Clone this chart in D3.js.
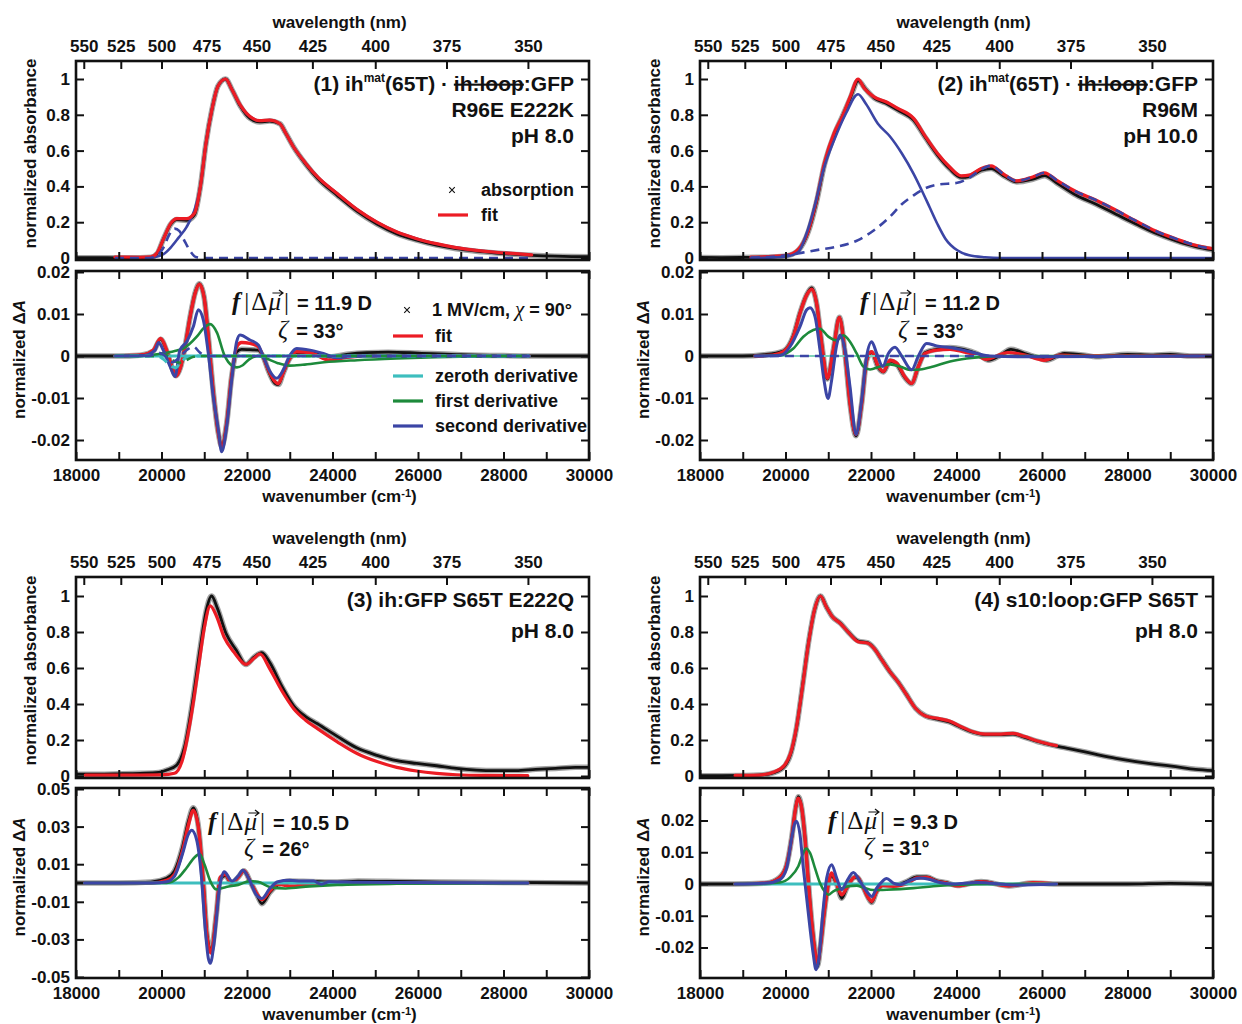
<!DOCTYPE html>
<html><head><meta charset="utf-8">
<script src="https://cdn.jsdelivr.net/npm/d3@7"></script>
<style>
body{margin:0;background:#fff}
svg text{font-family:"Liberation Sans",Arial,sans-serif;font-weight:bold;fill:#111}
</style></head>
<body><svg id="c" width="1242" height="1024"></svg>
<script>
// ---------------- tick values ----------------
const wavenumberTicks = [18000,19000,20000,21000,22000,23000,24000,25000,26000,27000,28000,29000,30000];
const wavenumberLabels = [18000,20000,22000,24000,26000,28000,30000];
const wavelengthTicks = [550,525,500,475,450,425,400,375,350];
const absTicks = [0,0.2,0.4,0.6,0.8,1];
const starkTicksA = [-0.02,-0.01,0,0.01,0.02];
const starkTicksB = [-0.05,-0.03,-0.01,0.01,0.03,0.05];

// ---------------- panel 1 ----------------
const p1AbsData = [[18000,0.002],[18500,0.002],[19000,0.001],[19500,0.002],[19750,0.004],[19900,0.025],[20035,0.10],[20220,0.19],[20360,0.215],[20585,0.21],[20770,0.24],[20910,0.40],[21040,0.64],[21180,0.83],[21320,0.96],[21500,1.0],[21650,0.94],[21840,0.85],[22070,0.78],[22300,0.76],[22530,0.765],[22770,0.75],[22900,0.70],[23090,0.62],[23370,0.525],[23650,0.445],[24110,0.35],[24580,0.26],[25040,0.19],[25510,0.135],[25970,0.10],[26430,0.072],[26890,0.052],[27360,0.038],[27820,0.028],[28290,0.02],[28660,0.015],[29200,0.01],[29600,0.008],[30000,0.007]];
const p1AbsFit = [[18910,0.005],[19500,0.004],[19750,0.006],[19900,0.03],[20035,0.10],[20220,0.195],[20360,0.22],[20585,0.22],[20770,0.25],[20910,0.40],[21040,0.64],[21180,0.83],[21320,0.96],[21500,1.0],[21650,0.94],[21840,0.855],[22070,0.79],[22300,0.767],[22530,0.77],[22770,0.75],[22900,0.70],[23090,0.62],[23370,0.53],[23650,0.453],[24110,0.36],[24580,0.27],[25040,0.20],[25510,0.145],[25970,0.108],[26430,0.08],[26890,0.058],[27360,0.043],[27820,0.032],[28290,0.024],[28660,0.017]];
const p1CompMain = [[19600,0],[19800,0.004],[20035,0.02],[20220,0.06],[20400,0.114],[20585,0.173],[20770,0.267],[20910,0.40],[21040,0.64],[21180,0.83],[21320,0.96],[21500,1.0],[21650,0.94],[21840,0.855],[22070,0.79],[22300,0.767],[22530,0.77],[22770,0.75],[22900,0.70],[23090,0.62],[23370,0.53],[23650,0.453],[24110,0.36],[24580,0.27],[25040,0.20],[25510,0.145],[25970,0.108],[26430,0.08],[26890,0.058],[27360,0.043],[27820,0.032],[28290,0.024],[28660,0.017]];
const p1CompSmall = [[18910,0],[19700,0],[19900,0.015],[20050,0.06],[20180,0.13],[20307,0.164],[20420,0.15],[20550,0.09],[20680,0.035],[20800,0.006],[21000,0],[28660,0]];
const p1StarkData = [[18000,0],[19000,0],[19500,0.0002],[19810,0.0012],[19980,0.004],[20120,0.0012],[20240,-0.0025],[20340,-0.0047],[20450,-0.0025],[20550,0.0022],[20670,0.0094],[20785,0.015],[20885,0.0172],[20995,0.0141],[21095,0.0046],[21215,-0.0089],[21330,-0.0184],[21410,-0.0215],[21525,-0.016],[21640,-0.005],[21760,0.001],[21875,0.0016],[22070,0.0015],[22265,0.0014],[22380,-0.0002],[22500,-0.0035],[22655,-0.0065],[22735,-0.0068],[22850,-0.004],[23005,-0.0005],[23160,0.0008],[23470,0.0008],[23940,-0.0002],[24330,0.0004],[24800,0.0008],[25300,0.0009],[26000,0.0007],[27000,0.0003],[28000,0.0001],[29000,0],[30000,0]];
const p1StarkFit = [[18910,0],[19575,0.0003],[19810,0.0014],[19980,0.0042],[20120,0.0014],[20240,-0.0025],[20340,-0.0048],[20450,-0.0025],[20550,0.0022],[20670,0.0094],[20785,0.0149],[20885,0.0171],[20995,0.0141],[21095,0.0046],[21215,-0.0089],[21330,-0.0184],[21410,-0.0218],[21525,-0.016],[21640,-0.0049],[21760,0.0022],[21875,0.0032],[22070,0.003],[22265,0.0022],[22380,-0.0002],[22500,-0.0033],[22655,-0.0061],[22735,-0.0066],[22850,-0.0039],[23005,-0.0005],[23160,0.001],[23470,0.0008],[23940,-0.001],[24330,-0.0003],[24870,0],[26000,0],[28600,0]];
const p1Zeroth = [[18910,0],[20000,0],[24000,0],[28600,0]];
const p1ZerothDash = [[18910,0],[19900,0],[20050,-0.0008],[20200,-0.0022],[20330,-0.0028],[20450,-0.0015],[20600,-0.0003],[20800,0],[28600,0]];
const p1First = [[18910,0],[19600,0.0001],[20080,0.0007],[20360,0.0013],[20515,0.0018],[20825,0.0046],[21000,0.0068],[21135,0.0076],[21300,0.0055],[21460,0.0005],[21560,-0.0014],[21760,-0.0027],[21900,-0.0022],[22050,-0.0008],[22260,0],[22450,-0.0006],[22720,-0.0017],[23000,-0.0023],[23300,-0.0021],[23800,-0.0015],[24580,-0.001],[25500,-0.0006],[26430,-0.0003],[27500,-0.0001],[28600,0]];
const p1FirstDash = [[18910,0],[19800,0],[20000,0.0005],[20150,0],[20300,-0.0012],[20450,-0.0016],[20600,-0.0009],[20750,-0.0002],[20900,0],[28600,0]];
const p1Second = [[18910,0],[19575,0.0001],[19850,0.0014],[19930,0.0032],[20050,0.0012],[20200,-0.0025],[20316,-0.0049],[20430,0.0014],[20590,0.0034],[20745,0.007],[20860,0.011],[20978,0.0086],[21095,0.0006],[21212,-0.0097],[21329,-0.0176],[21407,-0.0228],[21524,-0.0168],[21641,-0.0057],[21758,0.0034],[21836,0.005],[22070,0.0038],[22265,0.0026],[22382,-0.0002],[22538,-0.0037],[22694,-0.0053],[22850,-0.0033],[23006,0.0002],[23162,0.0018],[23474,0.0014],[23786,0.0006],[24098,-0.0004],[24722,0],[28600,0]];
const p1SecondDash = [[18910,0],[19700,0],[19900,0.0008],[20050,0.0003],[20250,-0.0015],[20400,-0.0005],[20600,0.0015],[20750,0.0022],[20900,0.0008],[21050,0],[28600,0]];

// ---------------- panel 2 ----------------
const p2AbsData = [[18000,0.003],[18500,0.002],[19000,0.003],[19300,0.004],[19700,0.006],[20027,0.012],[20306,0.045],[20538,0.15],[20723,0.31],[20909,0.52],[21141,0.69],[21327,0.79],[21512,0.89],[21698,0.99],[21884,0.94],[22070,0.895],[22349,0.865],[22627,0.826],[22997,0.77],[23278,0.67],[23556,0.575],[23835,0.50],[24113,0.45],[24299,0.455],[24576,0.49],[24808,0.50],[25133,0.455],[25411,0.425],[25783,0.44],[26061,0.46],[26340,0.42],[26803,0.35],[27268,0.30],[27732,0.245],[28196,0.19],[28660,0.138],[29125,0.097],[29589,0.064],[30000,0.045]];
const p2AbsFit = [[19190,0.005],[19600,0.008],[20027,0.015],[20306,0.05],[20538,0.155],[20723,0.32],[20909,0.53],[21141,0.70],[21327,0.79],[21512,0.90],[21698,1.0],[21837,0.95],[22070,0.90],[22349,0.873],[22627,0.836],[22997,0.78],[23278,0.677],[23556,0.584],[23835,0.51],[24113,0.459],[24299,0.463],[24576,0.50],[24808,0.515],[25133,0.463],[25411,0.431],[25783,0.453],[26061,0.476],[26340,0.435],[26803,0.37],[27268,0.323],[27732,0.267],[28196,0.207],[28660,0.151],[29125,0.108],[29589,0.071],[30000,0.052]];
const p2CompMain = [[19190,0],[19700,0.003],[20027,0.008],[20306,0.035],[20491,0.136],[20677,0.285],[20909,0.51],[21141,0.66],[21419,0.81],[21698,0.915],[21884,0.86],[22162,0.75],[22440,0.68],[22719,0.585],[22997,0.47],[23183,0.38],[23369,0.285],[23554,0.19],[23740,0.108],[24018,0.043],[24297,0.015],[24668,0.004],[25039,0],[30000,0]];
const p2CompBroad = [[19190,0.003],[19600,0.006],[20027,0.015],[20400,0.03],[20800,0.047],[21141,0.06],[21698,0.10],[22070,0.155],[22440,0.23],[22719,0.30],[22997,0.35],[23276,0.39],[23554,0.41],[24018,0.42],[24299,0.448],[24576,0.495],[24808,0.515],[25133,0.463],[25411,0.431],[25783,0.453],[26061,0.476],[26340,0.435],[26803,0.37],[27268,0.323],[27732,0.267],[28196,0.207],[28660,0.151],[29125,0.108],[29589,0.071],[30000,0.052]];
const p2StarkData = [[18000,0],[19000,0],[19500,0.0003],[19949,0.0012],[20183,0.0048],[20339,0.0103],[20495,0.0146],[20612,0.0162],[20729,0.0124],[20846,0.003],[20979,-0.0055],[21119,0.0014],[21260,0.0092],[21392,0.0006],[21509,-0.0113],[21650,-0.019],[21782,-0.0113],[21899,-0.001],[22016,0.0008],[22172,-0.0028],[22290,-0.0038],[22445,-0.0012],[22601,-0.002],[22796,-0.0052],[22952,-0.0066],[23108,-0.0025],[23264,0.0008],[23537,0.0016],[23849,0.002],[24161,0.0016],[24473,0.0006],[24760,-0.001],[25000,0],[25272,0.0016],[25600,0.0006],[25900,-0.0004],[26107,-0.001],[26523,0.0006],[27000,0.0002],[27265,-0.0002],[28007,0.0004],[28600,0.0002],[29000,0.0004],[29500,0],[30000,0]];
const p2StarkFit = [[19285,0],[19700,0.0002],[19949,0.001],[20183,0.0046],[20339,0.0102],[20495,0.0145],[20612,0.0159],[20729,0.0125],[20846,0.003],[20979,-0.0053],[21119,0.0014],[21260,0.0092],[21392,0.0006],[21509,-0.0113],[21650,-0.0187],[21782,-0.0113],[21899,-0.001],[22016,0.001],[22172,-0.0025],[22290,-0.0037],[22445,-0.001],[22601,-0.0017],[22796,-0.005],[22952,-0.0065],[23108,-0.0025],[23264,0.0006],[23537,0.0014],[23849,0.0016],[24161,0.001],[24473,0.0002],[24700,-0.0008],[24941,0],[25200,0.0008],[25600,0.0002],[26050,-0.001],[26400,0.0002],[27000,0],[30000,0]];
const p2Zeroth = [[19285,0],[24500,0]];
const p2First = [[19285,0],[19871,0.0002],[20183,0.0018],[20417,0.0046],[20651,0.0062],[20807,0.0065],[21002,0.0046],[21197,0.0037],[21353,0.0049],[21509,0.0034],[21665,0.0006],[21821,-0.0025],[21977,-0.0032],[22211,-0.0025],[22445,-0.002],[22679,-0.0025],[22913,-0.0033],[23147,-0.0032],[23459,-0.0025],[23849,-0.0013],[24239,-0.0006],[24629,-0.0002],[25097,0],[30000,0]];
const p2Second = [[19285,0],[19871,0.0001],[20105,0.0022],[20339,0.007],[20495,0.011],[20573,0.0115],[20690,0.0094],[20807,0.0014],[20900,-0.0057],[20995,-0.0101],[21080,-0.0057],[21197,0.0026],[21275,0.005],[21392,0.0014],[21509,-0.0073],[21650,-0.0187],[21782,-0.0105],[21899,0],[22016,0.0034],[22133,0.0006],[22274,-0.0025],[22406,0.0006],[22562,0.0021],[22718,0],[22952,-0.0033],[23108,0],[23300,0.003],[23537,0.0024],[23849,0.002],[24161,0.0014],[24473,0.0006],[24785,0],[26000,-0.0002],[30000,0]];
const p2SecondDash = [[19285,0],[30000,0]];

// ---------------- panel 3 ----------------
const p3AbsData = [[18000,0.01],[18500,0.01],[19000,0.012],[19500,0.015],[19934,0.02],[20121,0.033],[20353,0.06],[20538,0.16],[20725,0.41],[20910,0.72],[21048,0.92],[21170,1.0],[21310,0.93],[21513,0.79],[21745,0.70],[21977,0.62],[22163,0.66],[22348,0.685],[22533,0.63],[22811,0.50],[23092,0.39],[23370,0.33],[23648,0.29],[24112,0.22],[24575,0.155],[25040,0.115],[25503,0.085],[25969,0.07],[26433,0.057],[26896,0.042],[27361,0.033],[27824,0.03],[28289,0.03],[28753,0.037],[29218,0.042],[29681,0.048],[30000,0.048]];
const p3AbsFit = [[18218,0.005],[19500,0.005],[20000,0.006],[20306,0.015],[20491,0.09],[20678,0.31],[20863,0.60],[21003,0.825],[21141,0.945],[21282,0.89],[21466,0.77],[21698,0.687],[21976,0.62],[22163,0.654],[22302,0.678],[22533,0.595],[22811,0.475],[23092,0.374],[23370,0.31],[23648,0.263],[24112,0.19],[24575,0.125],[25040,0.08],[25503,0.048],[25969,0.028],[26433,0.015],[26896,0.007],[27500,0.003],[28568,0.002]];
const p3StarkData = [[18000,0],[19000,0],[19750,0.0005],[20121,0.0025],[20306,0.0065],[20491,0.019],[20631,0.033],[20743,0.040],[20863,0.03],[20975,0.001],[21067,-0.028],[21160,-0.036],[21281,-0.017],[21373,0.002],[21494,0.004],[21633,0],[21792,0.003],[21930,0.0065],[22070,0.001],[22237,-0.0065],[22348,-0.011],[22533,-0.005],[22720,-0.001],[22998,0.001],[23462,0.0008],[24112,0.0005],[24600,0.001],[25500,0.0008],[26500,0.0005],[28000,0.0003],[30000,0]];
const p3StarkFit = [[18200,0],[19750,0],[20121,0.0014],[20306,0.0046],[20491,0.017],[20631,0.031],[20743,0.0386],[20863,0.0296],[20975,0.001],[21067,-0.029],[21160,-0.0373],[21281,-0.0168],[21373,0.003],[21494,0.0046],[21633,0],[21792,0.003],[21930,0.0066],[22070,0.001],[22237,-0.006],[22348,-0.0088],[22533,-0.0043],[22720,-0.0007],[22998,-0.0016],[23462,-0.0007],[24112,0],[28568,0]];
const p3Zeroth = [[18200,0],[28568,0]];
const p3First = [[18200,0],[20121,0],[20399,0.003],[20585,0.008],[20770,0.0136],[20892,0.0154],[21003,0.01],[21141,0.001],[21281,-0.0034],[21513,-0.0021],[21792,-0.001],[22070,0.001],[22256,0.0007],[22533,-0.0021],[22905,-0.0029],[23462,-0.0018],[24112,-0.001],[25503,-0.0004],[28568,0]];
const p3Second = [[18200,0],[19800,0],[20121,0.0007],[20306,0.0037],[20491,0.0154],[20631,0.026],[20706,0.028],[20817,0.0234],[20929,0.0046],[21021,-0.024],[21095,-0.04],[21141,-0.0427],[21234,-0.031],[21346,-0.0043],[21466,0.006],[21652,0.001],[21792,0.0037],[21902,0.0068],[22050,0.002],[22209,-0.006],[22348,-0.0082],[22533,-0.0029],[22720,0.0007],[22998,0.0014],[23277,0.001],[23556,0.001],[23740,-0.0007],[23927,0.0007],[24575,0.0004],[25503,0.0002],[28568,0]];

// ---------------- panel 4 ----------------
const p4AbsData = [[18000,0.002],[18500,0.002],[19000,0.003],[19377,0.005],[19749,0.02],[19981,0.055],[20119,0.12],[20259,0.27],[20398,0.50],[20538,0.74],[20677,0.92],[20817,1.0],[20955,0.94],[21096,0.885],[21280,0.85],[21466,0.80],[21698,0.75],[21930,0.74],[22070,0.71],[22256,0.645],[22440,0.58],[22627,0.524],[22812,0.459],[23043,0.376],[23277,0.333],[23555,0.316],[23834,0.30],[24112,0.27],[24390,0.243],[24669,0.23],[25041,0.23],[25319,0.233],[25597,0.215],[25876,0.193],[26154,0.176],[26339,0.166],[26802,0.144],[27267,0.12],[27730,0.098],[28196,0.08],[28659,0.065],[29125,0.052],[29588,0.037],[30000,0.03]];
const p4AbsFit = [[18821,0.003],[19377,0.005],[19749,0.024],[19981,0.061],[20119,0.126],[20259,0.274],[20398,0.496],[20538,0.737],[20677,0.922],[20817,1.0],[20955,0.94],[21096,0.885],[21280,0.848],[21466,0.80],[21698,0.746],[21930,0.737],[22070,0.709],[22256,0.644],[22440,0.58],[22627,0.524],[22812,0.459],[23043,0.376],[23277,0.333],[23555,0.32],[23834,0.306],[24112,0.274],[24390,0.246],[24669,0.233],[25041,0.233],[25319,0.237],[25597,0.219],[25876,0.196],[26154,0.178],[26339,0.169]];
const p4StarkData = [[18000,0],[18800,0],[19559,0.0003],[19871,0.0022],[20027,0.006],[20144,0.0145],[20238,0.024],[20300,0.0275],[20378,0.024],[20456,0.0145],[20534,0.0008],[20612,-0.0118],[20690,-0.0213],[20744,-0.026],[20823,-0.019],[20900,-0.0097],[21002,0],[21080,0.0025],[21197,0],[21314,-0.0045],[21431,-0.0013],[21587,0.0019],[21665,0.0022],[21782,0],[21937,-0.0044],[22015,-0.0058],[22132,-0.0023],[22288,-0.0004],[22522,-0.0005],[22834,0.0008],[23068,0.0022],[23302,0.0022],[23536,0.001],[23770,0.0004],[24018,-0.0005],[24575,0.0008],[25225,-0.0006],[25783,0.0003],[26340,0],[27000,0],[28000,0],[29000,0.0002],[30000,0]];
const p4StarkFit = [[18818,0],[19559,0.0003],[19871,0.0021],[20027,0.0061],[20144,0.0145],[20238,0.024],[20300,0.027],[20378,0.024],[20456,0.0145],[20534,0.0008],[20612,-0.0118],[20690,-0.0213],[20744,-0.025],[20823,-0.019],[20900,-0.0097],[21002,0],[21080,0.0035],[21197,0],[21314,-0.0034],[21431,-0.0013],[21587,0.0019],[21665,0.0024],[21782,0],[21937,-0.0044],[22015,-0.0055],[22132,-0.0023],[22288,-0.0004],[22522,-0.0007],[22834,0],[23068,0.0019],[23302,0.0021],[23536,0.0008],[23770,0.0003],[24018,-0.0006],[24575,0.0007],[25225,-0.0006],[25783,0.0004],[26340,0]];
const p4Zeroth = [[18818,0],[26340,0]];
const p4First = [[18818,0],[19170,0],[19871,0.0005],[20105,0.0021],[20300,0.0056],[20417,0.0098],[20479,0.0112],[20573,0.0098],[20690,0.005],[20807,0.0003],[20924,-0.0025],[21002,-0.0034],[21119,-0.0023],[21275,-0.0015],[21470,-0.0007],[21665,-0.0005],[21820,-0.0011],[22054,-0.0019],[22366,-0.0018],[22678,-0.0016],[22990,-0.0013],[23458,-0.0007],[23926,-0.0003],[25000,0],[26340,0]];
const p4Second = [[18818,0],[19559,0.0003],[19871,0.0014],[20027,0.005],[20144,0.0145],[20222,0.0193],[20261,0.0198],[20339,0.0156],[20417,0.005],[20495,-0.0044],[20573,-0.0139],[20651,-0.0223],[20713,-0.027],[20791,-0.0223],[20869,-0.0097],[20963,0.0019],[21080,0.0061],[21197,0.0019],[21314,-0.0018],[21431,0.0008],[21587,0.0036],[21743,0.0008],[21898,-0.0023],[22015,-0.0039],[22132,-0.0013],[22249,0.0006],[22366,0.0017],[22522,0.0003],[22678,-0.0002],[22912,0.0011],[23146,0.0019],[23380,0.0014],[23614,0.0005],[23926,0],[24480,0.0005],[25411,-0.0003],[26340,0]];

// ---------------- text ----------------
const titles = [
  [["(1) ih",null],["mat","sup"],["(65T) · ","after"],["ih:loop","strike"],[":GFP",null]],
  [["(2) ih",null],["mat","sup"],["(65T) · ","after"],["ih:loop","strike"],[":GFP",null]],
  [["(3) ih:GFP S65T E222Q",null]],
  [["(4) s10:loop:GFP S65T",null]]
];
const subtitles = [["R96E E222K","pH 8.0"],["R96M","pH 10.0"],["pH 8.0"],["pH 8.0"]];
const dipoleValues = ["11.9","11.2","10.5","9.3"];
const zetaValues = ["33","33","26","31"];

// ---------------- drawing ----------------
const C = {red:"#ec1c24", blue:"#3b45a5", green:"#1d8a3b", cyan:"#3dbebe", black:"#111"};
const svg = d3.select("#c");
let clipN = 0;
const fmt = v => String(Math.round(v*1000)/1000);

function plot(p){
  const x = d3.scaleLinear().domain([18000,30000]).range([p.x0,p.x1]);
  const y = d3.scaleLinear().domain(p.yd).range(p.yr);
  const g = svg.append("g");
  const id = "clip"+(clipN++);
  svg.append("clipPath").attr("id",id).append("rect")
    .attr("x",p.x0).attr("y",p.yt).attr("width",p.x1-p.x0).attr("height",p.yb-p.yt);
  const line = d3.line().x(d=>x(d[0])).y(d=>y(d[1])).curve(d3.curveMonotoneX);
  const cg = g.append("g").attr("clip-path",`url(#${id})`);
  p.series.forEach(s=>{
    if(s.halo) cg.append("path").attr("d",line(s.data)).attr("fill","none")
      .attr("stroke","#333").attr("stroke-opacity",0.45).attr("stroke-width",s.halo).attr("stroke-linejoin","round");
    cg.append("path").attr("d",line(s.data)).attr("fill","none").attr("stroke",s.c)
      .attr("stroke-width",s.w).attr("stroke-dasharray",s.dash||null)
      .attr("stroke-linejoin","round").attr("stroke-linecap",s.dash?"butt":"round");
  });
  const style = sel => { sel.attr("font-size",17).attr("font-family","Liberation Sans").attr("font-weight","bold");
    sel.select(".domain").remove(); sel.selectAll(".tick line").attr("stroke","#111").attr("stroke-width",2); };
  g.append("g").attr("transform",`translate(0,${p.yb})`)
    .call(d3.axisBottom(x).tickValues(wavenumberTicks).tickSize(-8).tickPadding(9)
      .tickFormat(v => p.xLabels && wavenumberLabels.includes(v) ? v : "")).call(style);
  if(p.wl){
    g.append("g").attr("transform",`translate(0,${p.yt})`)
      .call(d3.axisTop(x).tickValues(wavelengthTicks.map(l=>1e7/l)).tickSize(-8).tickPadding(9)
        .tickFormat(v=>Math.round(1e7/v))).call(style);
  } else {
    g.append("g").attr("transform",`translate(0,${p.yt})`)
      .call(d3.axisTop(x).tickValues(wavenumberTicks).tickSize(-8).tickFormat("")).call(style);
  }
  g.append("g").attr("transform",`translate(${p.x0},0)`)
    .call(d3.axisLeft(y).tickValues(p.yt_vals).tickSize(-8).tickPadding(6).tickFormat(fmt)).call(style);
  g.append("g").attr("transform",`translate(${p.x1},0)`)
    .call(d3.axisRight(y).tickValues(p.yt_vals).tickSize(-8).tickFormat("")).call(style);
  g.append("rect").attr("x",p.x0).attr("y",p.yt).attr("width",p.x1-p.x0).attr("height",p.yb-p.yt)
    .attr("fill","none").attr("stroke","#111").attr("stroke-width",2.6);
  return {x,y};
}

const cols = [{x0:76,x1:589},{x0:700,x1:1213}];
const rows = [
  {up:{yt:61,yb:260,yd:[0,1],yr:[258,79]}, lo:{yt:271,yb:460}},
  {up:{yt:577,yb:778,yd:[0,1],yr:[776,596]}, lo:{yt:788,yb:978}}
];
const loScales = [
  {yd:[0,0.02],yr:[356,272],ticks:starkTicksA},
  {yd:[0,0.02],yr:[356,272],ticks:starkTicksA},
  {yd:[-0.05,0.05],yr:[977,789],ticks:starkTicksB},
  {yd:[0,0.02],yr:[884,820.5],ticks:starkTicksA}
];

const dataW = 2.8, dataHalo = 5.5;
const absSeries = [
  [ {data:p1AbsData,c:C.black,w:dataW,halo:dataHalo},{data:p1CompMain,c:C.blue,w:2.6},{data:p1AbsFit,c:C.red,w:3.2},{data:p1CompSmall,c:C.blue,w:2.6,dash:"9,6"} ],
  [ {data:p2AbsData,c:C.black,w:dataW,halo:dataHalo},{data:p2AbsFit,c:C.red,w:3.2},{data:p2CompMain,c:C.blue,w:2.6},{data:p2CompBroad,c:C.blue,w:2.6,dash:"9,6"} ],
  [ {data:p3AbsData,c:C.black,w:dataW,halo:dataHalo},{data:p3AbsFit,c:C.red,w:3.2} ],
  [ {data:p4AbsData,c:C.black,w:dataW,halo:dataHalo},{data:p4AbsFit,c:C.red,w:3.2} ]
];
const starkSeries = [
  [ {data:p1StarkData,c:C.black,w:dataW,halo:dataHalo},{data:p1StarkFit,c:C.red,w:3.4},{data:p1Zeroth,c:C.cyan,w:3},{data:p1First,c:C.green,w:2.6},{data:p1Second,c:C.blue,w:3},
    {data:p1ZerothDash,c:C.cyan,w:3,dash:"9,6"},{data:p1FirstDash,c:C.green,w:2.6,dash:"9,6"},{data:p1SecondDash,c:C.blue,w:2.6,dash:"9,6"} ],
  [ {data:p2StarkData,c:C.black,w:dataW,halo:dataHalo},{data:p2StarkFit,c:C.red,w:3.4},{data:p2Zeroth,c:"#7fd3b8",w:2.2},{data:p2First,c:C.green,w:2.6},{data:p2Second,c:C.blue,w:3},
    {data:p2SecondDash,c:C.blue,w:2.4,dash:"9,6"} ],
  [ {data:p3StarkData,c:C.black,w:dataW,halo:dataHalo},{data:p3StarkFit,c:C.red,w:3.4},{data:p3Zeroth,c:C.cyan,w:3},{data:p3First,c:C.green,w:2.6},{data:p3Second,c:C.blue,w:3} ],
  [ {data:p4StarkData,c:C.black,w:dataW,halo:dataHalo},{data:p4StarkFit,c:C.red,w:3.4},{data:p4Zeroth,c:C.cyan,w:3},{data:p4First,c:C.green,w:2.6},{data:p4Second,c:C.blue,w:3} ]
];

function label(x,y,txt,opt={}){
  const t = svg.append("text").attr("text-anchor",opt.anchor||"middle").attr("font-size",opt.size||17);
  if(opt.rot) t.attr("transform",`translate(${x},${y}) rotate(-90)`).attr("x",0).attr("y",0).attr("dy","0.35em");
  else t.attr("x",x).attr("y",y).attr("dy","0.35em");
  t.append("tspan").text(txt);
  return t;
}

function dipole(x,y,val){
  const t = svg.append("text").attr("x",x).attr("y",y);
  const serif = s => s.attr("font-family","Liberation Serif").attr("font-size",25);
  serif(t.append("tspan").text("f")).attr("font-style","italic").attr("font-weight","bold");
  serif(t.append("tspan").text("|").attr("dx",4)).attr("font-weight","normal");
  serif(t.append("tspan").text("Δ").attr("dx",2)).attr("font-weight","normal");
  serif(t.append("tspan").text("μ").attr("dx",1)).attr("font-weight","normal").attr("font-style","italic");
  serif(t.append("tspan").text("|").attr("dx",3)).attr("font-weight","normal");
  t.append("tspan").text("= "+val+" D").attr("dx",8).attr("font-size",20);
  const e = t.node().getExtentOfChar(3);
  const ay = y - 17, ax0 = e.x + 4, ax1 = e.x + e.width + 2;
  svg.append("path").attr("d",`M${ax0},${ay}H${ax1}M${ax1-4},${ay-3}L${ax1},${ay}L${ax1-4},${ay+3}`)
    .attr("fill","none").attr("stroke","#111").attr("stroke-width",1.2);
}
function zeta(x,y,val){
  const t = svg.append("text").attr("x",x).attr("y",y);
  t.append("tspan").text("ζ").attr("font-family","Liberation Serif").attr("font-style","italic").attr("font-weight","normal").attr("font-size",25);
  t.append("tspan").text("= "+val+"°").attr("dx",8).attr("font-size",20);
}

const panelAnn = [
  {dx:232,dy:310,zx:278,zy:338},
  {dx:860,dy:310,zx:898,zy:338},
  {dx:208,dy:830,zx:244,zy:856},
  {dx:828,dy:829,zx:864,zy:855}
];

for(let i=0;i<4;i++){
  const col = cols[i%2], row = rows[Math.floor(i/2)];
  plot({x0:col.x0,x1:col.x1,yt:row.up.yt,yb:row.up.yb,yd:row.up.yd,yr:row.up.yr,
        yt_vals:absTicks,wl:true,xLabels:false,series:absSeries[i]});
  const ls = loScales[i];
  plot({x0:col.x0,x1:col.x1,yt:row.lo.yt,yb:row.lo.yb,yd:ls.yd,yr:ls.yr,
        yt_vals:ls.ticks,wl:false,xLabels:true,series:starkSeries[i]});
  const cx = (col.x0+col.x1)/2 + 7;
  label(cx,row.up.yt-39,"wavelength (nm)");
  const wn = label(cx,row.lo.yb+36,"wavenumber (cm");
  wn.append("tspan").text("-1").attr("font-size",11).attr("dy","-0.45em");
  wn.append("tspan").text(")").attr("font-size",17).attr("dy","0.3em");
  label(col.x0-46,(row.up.yt+row.up.yb)/2-7,"normalized absorbance",{rot:true});
  const da = label(col.x0-57,(row.lo.yt+row.lo.yb)/2-6,"normalized Δ",{rot:true});
  da.append("tspan").text("A").attr("font-style","italic");

  const tx = col.x1 - 15;
  const base = row.up.yt + 30;
  const t1 = svg.append("text").attr("x",tx).attr("y",base).attr("text-anchor","end").attr("font-size",21);
  titles[i].forEach(([s,kind])=>{
    const ts = t1.append("tspan").text(s);
    if(kind==="sup") ts.attr("font-size",12).attr("dy",-9);
    else if(kind==="strike") ts.attr("text-decoration","line-through").style("text-decoration","line-through");
    else if(kind==="after") ts.attr("dy",9);
  });
  subtitles[i].forEach((s,k)=>{
    svg.append("text").attr("x",tx).attr("y",base+26*(k+1)+(titles[i].length===1?5:0)).attr("text-anchor","end").attr("font-size",21).text(s);
  });
  const a = panelAnn[i];
  dipole(a.dx,a.dy,dipoleValues[i]);
  zeta(a.zx,a.zy,zetaValues[i]);
}

function cross(x,y){
  svg.append("path").attr("d",d3.symbol(d3.symbolTimes,22)()).attr("transform",`translate(${x},${y})`)
    .attr("fill","none").attr("stroke","#111").attr("stroke-width",1.1);
}
cross(452,190);
svg.append("text").attr("x",481).attr("y",190).attr("dy","0.35em").attr("font-size",18).text("absorption");
svg.append("line").attr("x1",438).attr("x2",468).attr("y1",215).attr("y2",215).attr("stroke",C.red).attr("stroke-width",3.2);
svg.append("text").attr("x",481).attr("y",215).attr("dy","0.35em").attr("font-size",18).text("fit");

cross(407,310);
const lt = svg.append("text").attr("x",432).attr("y",310).attr("dy","0.35em").attr("font-size",18);
lt.append("tspan").text("1 MV/cm, ");
lt.append("tspan").text("χ").attr("font-family","Liberation Serif").attr("font-style","italic").attr("font-weight","normal").attr("font-size",21);
lt.append("tspan").text(" = 90°");
const legRows = [[336,C.red,"fit"],[376,C.cyan,"zeroth derivative"],[401,C.green,"first derivative"],[426,C.blue,"second derivative"]];
legRows.forEach(([yy,c,s])=>{
  svg.append("line").attr("x1",393).attr("x2",423).attr("y1",yy).attr("y2",yy).attr("stroke",c).attr("stroke-width",3.2);
  svg.append("text").attr("x",435).attr("y",yy).attr("dy","0.35em").attr("font-size",18).text(s);
});
</script></body></html>
